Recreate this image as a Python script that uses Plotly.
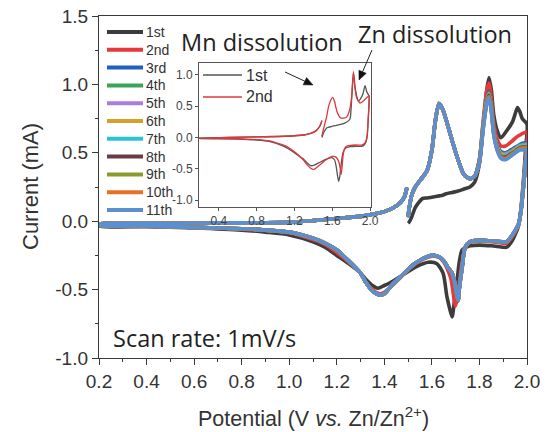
import plotly.graph_objects as go

# ---------------- main panel: 11 CV cycles (current in mA vs potential in V) ----------------
CYCLES = ["1st", "2nd", "3rd", "4th", "5th", "6th", "7th", "8th", "9th", "10th", "11th"]
COLORS = ["#3c3c3c", "#e8393a", "#1f5fc6", "#3da35a", "#a97fdc", "#d4a22a",
          "#2cc3d3", "#6d3b44", "#8a9b2b", "#e86f28", "#5b8fcf"]

# anodic sweep 1.50 -> 1.78 V
V_START = [1.500, 1.505, 1.515, 1.53, 1.56, 1.58, 1.60, 1.615, 1.63, 1.645, 1.66, 1.685, 1.71, 1.735, 1.76, 1.78]
I_START_1ST = [-0.015, -0.005, 0.03, 0.10, 0.165, 0.17, 0.175, 0.18, 0.185, 0.19, 0.20, 0.21, 0.22, 0.235, 0.25, 0.285]
I_START_LATER = [0.03, 0.10, 0.19, 0.25, 0.32, 0.37, 0.52, 0.74, 0.86, 0.82, 0.74, 0.59, 0.45, 0.34, 0.31, 0.33]

# anodic sweep 1.80 -> 2.00 V (Zn-related peaks), one list per cycle
V_TAIL = [1.80, 1.815, 1.83, 1.84, 1.85, 1.86, 1.875, 1.89, 1.91, 1.94, 1.96, 1.97, 1.98, 2.0]
TAIL_1ST = [0.42, 0.68, 0.95, 1.05, 0.96, 0.78, 0.66, 0.61, 0.65, 0.73, 0.83, 0.80, 0.75, 0.71]
TAIL_2ND = [0.45, 0.72, 0.95, 1.01, 0.90, 0.72, 0.60, 0.55, 0.55, 0.59, 0.62, 0.63, 0.64, 0.65]
TAIL_3RD = [0.45, 0.70, 0.89, 0.95, 0.85, 0.68, 0.56, 0.51, 0.50, 0.53, 0.55, 0.56, 0.57, 0.57]
TAIL_4TH = [0.45, 0.70, 0.88, 0.94, 0.84, 0.67, 0.55, 0.50, 0.495, 0.52, 0.545, 0.555, 0.56, 0.565]
TAIL_5TH = [0.45, 0.69, 0.88, 0.93, 0.83, 0.66, 0.545, 0.495, 0.49, 0.515, 0.54, 0.55, 0.555, 0.56]
TAIL_6TH = [0.44, 0.69, 0.87, 0.93, 0.83, 0.66, 0.54, 0.49, 0.48, 0.51, 0.535, 0.545, 0.55, 0.55]
TAIL_7TH = [0.44, 0.68, 0.87, 0.92, 0.82, 0.65, 0.535, 0.48, 0.475, 0.505, 0.53, 0.54, 0.545, 0.545]
TAIL_8TH = [0.44, 0.68, 0.86, 0.92, 0.82, 0.65, 0.53, 0.475, 0.47, 0.50, 0.525, 0.535, 0.54, 0.54]
TAIL_9TH = [0.43, 0.67, 0.86, 0.91, 0.81, 0.64, 0.525, 0.47, 0.46, 0.495, 0.52, 0.53, 0.535, 0.535]
TAIL_10TH = [0.43, 0.67, 0.85, 0.91, 0.81, 0.64, 0.52, 0.465, 0.455, 0.49, 0.515, 0.525, 0.53, 0.53]
TAIL_11TH = [0.43, 0.66, 0.85, 0.90, 0.80, 0.63, 0.515, 0.46, 0.45, 0.485, 0.51, 0.52, 0.52, 0.52]

# cathodic sweep 2.00 -> 0.20 V
V_REV_1ST = [1.995, 1.985, 1.975, 1.965, 1.95, 1.935, 1.915, 1.90, 1.85, 1.80, 1.76, 1.745, 1.727, 1.715,
             1.705, 1.695, 1.685, 1.675, 1.663, 1.647, 1.62, 1.585, 1.537, 1.48, 1.424, 1.40, 1.373, 1.35,
             1.32, 1.30, 1.25, 1.20, 1.15, 1.10, 1.0, 0.9, 0.8, 0.6, 0.4, 0.2]
I_REV_1ST = [0.55, 0.30, 0.10, -0.03, -0.10, -0.15, -0.19, -0.19, -0.18, -0.175, -0.18, -0.19, -0.21, -0.30,
             -0.45, -0.58, -0.70, -0.64, -0.55, -0.38, -0.31, -0.30, -0.33, -0.39, -0.45, -0.47, -0.49, -0.47,
             -0.42, -0.38, -0.31, -0.25, -0.19, -0.15, -0.10, -0.08, -0.065, -0.05, -0.04, -0.035]

V_REV_2ND = [1.995, 1.985, 1.975, 1.965, 1.95, 1.935, 1.915, 1.90, 1.85, 1.80, 1.76, 1.74, 1.725, 1.715,
             1.705, 1.698, 1.69, 1.68, 1.665, 1.65, 1.63, 1.605, 1.58, 1.55, 1.52, 1.49, 1.46, 1.43, 1.40,
             1.38, 1.35, 1.32, 1.30, 1.25, 1.20, 1.15, 1.10, 1.0, 0.9, 0.8, 0.6, 0.4, 0.2]
I_REV_2ND = [0.50, 0.28, 0.09, -0.02, -0.08, -0.12, -0.16, -0.16, -0.15, -0.145, -0.155, -0.20, -0.32, -0.46,
             -0.58, -0.62, -0.53, -0.42, -0.35, -0.30, -0.265, -0.255, -0.265, -0.29, -0.325, -0.375, -0.425,
             -0.475, -0.52, -0.53, -0.50, -0.44, -0.38, -0.30, -0.23, -0.17, -0.135, -0.085, -0.068, -0.058,
             -0.045, -0.037, -0.032]

V_REV_LATER = [1.995, 1.985, 1.975, 1.965, 1.95, 1.935, 1.915, 1.90, 1.85, 1.80, 1.76, 1.74, 1.727, 1.716,
               1.71, 1.703, 1.695, 1.685, 1.668, 1.65, 1.63, 1.605, 1.58, 1.55, 1.52, 1.49, 1.46, 1.43, 1.40,
               1.38, 1.35, 1.32, 1.30, 1.25, 1.20, 1.15, 1.10, 1.0, 0.9, 0.8, 0.6, 0.4, 0.2]
I_REV_LATER = [0.45, 0.25, 0.08, -0.02, -0.07, -0.11, -0.15, -0.15, -0.145, -0.14, -0.15, -0.19, -0.34, -0.48,
               -0.58, -0.52, -0.44, -0.38, -0.34, -0.29, -0.26, -0.25, -0.26, -0.285, -0.32, -0.37, -0.42,
               -0.47, -0.53, -0.54, -0.51, -0.44, -0.38, -0.29, -0.21, -0.16, -0.125, -0.08, -0.065, -0.055,
               -0.045, -0.035, -0.03]

# anodic return 0.20 -> 1.495 V
V_RET = [0.2, 0.5, 0.8, 1.0, 1.2, 1.3, 1.35, 1.40, 1.44, 1.47, 1.485, 1.495]
I_RET = [-0.02, -0.015, -0.012, -0.008, 0.02, 0.035, 0.05, 0.07, 0.10, 0.14, 0.18, 0.245]

# ---------------- inset: 1st and 2nd cycle ----------------
INSET_CYCLES = ["1st", "2nd"]
INSET_COLORS = ["#555555", "#e0363a"]
IN_V_OX_1ST = [1.49, 1.51, 1.544, 1.59, 1.632, 1.69, 1.737, 1.775, 1.79, 1.805, 1.824, 1.84, 1.859, 1.877,
               1.90, 1.925, 1.947, 1.965, 1.99]
IN_I_OX_1ST = [0.0, 0.08, 0.155, 0.175, 0.19, 0.21, 0.235, 0.27, 0.31, 0.6, 1.03, 0.82, 0.66, 0.58,
               0.62, 0.70, 0.83, 0.73, 0.66]
IN_V_OX_2ND = [1.49, 1.505, 1.52, 1.54, 1.562, 1.585, 1.605, 1.625, 1.649, 1.685, 1.72, 1.754, 1.785, 1.805,
               1.824, 1.84, 1.859, 1.894, 1.92, 1.947, 1.99]
IN_I_OX_2ND = [0.02, 0.12, 0.21, 0.33, 0.50, 0.60, 0.64, 0.57, 0.42, 0.315, 0.31, 0.33, 0.45, 0.65,
               1.05, 0.80, 0.63, 0.55, 0.57, 0.61, 0.67]
IN_V_RED_1ST = [1.99, 1.98, 1.97, 1.955, 1.93, 1.91, 1.85, 1.79, 1.75, 1.73, 1.715, 1.70, 1.69, 1.68, 1.667,
                1.655, 1.64, 1.625, 1.596, 1.57, 1.53, 1.49, 1.45, 1.41, 1.37, 1.33, 1.30, 1.25, 1.176, 1.1,
                1.0, 0.932, 0.8, 0.6, 0.4, 0.19]
IN_I_RED_1ST = [0.55, 0.25, 0.02, -0.08, -0.13, -0.14, -0.14, -0.145, -0.16, -0.19, -0.24, -0.36, -0.48, -0.62,
                -0.70, -0.60, -0.45, -0.36, -0.32, -0.33, -0.35, -0.38, -0.41, -0.44, -0.45, -0.40, -0.35, -0.30,
                -0.22, -0.15, -0.09, -0.06, -0.04, -0.025, -0.02, -0.015]
IN_V_RED_2ND = [1.99, 1.98, 1.97, 1.955, 1.93, 1.91, 1.85, 1.79, 1.75, 1.73, 1.715, 1.705, 1.695, 1.685, 1.672,
                1.655, 1.635, 1.615, 1.596, 1.57, 1.53, 1.49, 1.45, 1.404, 1.37, 1.33, 1.30, 1.25, 1.176, 1.1,
                1.0, 0.932, 0.8, 0.6, 0.4, 0.19]
IN_I_RED_2ND = [0.60, 0.30, 0.05, -0.06, -0.11, -0.12, -0.12, -0.125, -0.14, -0.18, -0.28, -0.45, -0.59, -0.50,
                -0.40, -0.34, -0.31, -0.30, -0.30, -0.32, -0.36, -0.41, -0.46, -0.51, -0.49, -0.43, -0.37, -0.29,
                -0.20, -0.13, -0.08, -0.055, -0.035, -0.02, -0.015, -0.01]
IN_V_RET = [0.19, 0.5, 0.8, 1.1, 1.3, 1.38, 1.43, 1.46, 1.48, 1.49]
IN_I_RET = [-0.01, 0.0, 0.01, 0.02, 0.04, 0.07, 0.11, 0.16, 0.22, 0.27]

# tick labels
Y_TICKS = [-1.0, -0.5, 0.0, 0.5, 1.0, 1.5]
Y_TICK_TEXT = ["-1.0", "-0.5", "0.0", "0.5", "1.0", "1.5"]
X_TICKS = [0.2, 0.4, 0.6, 0.8, 1.0, 1.2, 1.4, 1.6, 1.8, 2.0]
IN_Y_TICKS = [-1.0, -0.5, 0.0, 0.5, 1.0]
IN_Y_TICK_TEXT = ["-1.0", "-0.5", "0.0", "0.5", "1.0"]
IN_X_TICKS = [0.4, 0.8, 1.2, 1.6, 2.0]

TAILS = [TAIL_1ST, TAIL_2ND, TAIL_3RD, TAIL_4TH, TAIL_5TH, TAIL_6TH,
         TAIL_7TH, TAIL_8TH, TAIL_9TH, TAIL_10TH, TAIL_11TH]

# ---------------- page geometry (pixels) ----------------
W, H = 551, 432
ML, MR, MT, MB = 99, 24, 16, 74
PW, PH = W - ML - MR, H - MT - MB


def px(x):
    """figure pixel column -> paper x"""
    return (x - ML) / PW


def py(y):
    """figure pixel row -> paper y"""
    return (H - MB - y) / PH


fig = go.Figure()

for k, name in enumerate(CYCLES):
    if k == 0:
        head, v_rev, i_rev = I_START_1ST, V_REV_1ST, I_REV_1ST
    elif k == 1:
        head, v_rev, i_rev = I_START_LATER, V_REV_2ND, I_REV_2ND
    else:
        head, v_rev, i_rev = I_START_LATER, V_REV_LATER, I_REV_LATER
    fig.add_trace(go.Scatter(
        x=V_START + V_TAIL + v_rev + V_RET,
        y=head + TAILS[k] + i_rev + I_RET,
        mode="lines", name=name, showlegend=False,
        line=dict(color=COLORS[k], width=3.6, shape="spline", smoothing=0.7),
    ))

INSET_SERIES = [(IN_V_OX_1ST, IN_I_OX_1ST, IN_V_RED_1ST, IN_I_RED_1ST),
                (IN_V_OX_2ND, IN_I_OX_2ND, IN_V_RED_2ND, IN_I_RED_2ND)]
for k, (vo, io, vr, ir) in enumerate(INSET_SERIES):
    fig.add_trace(go.Scatter(
        x=vo + vr + IN_V_RET, y=io + ir + IN_I_RET, mode="lines", name=INSET_CYCLES[k],
        showlegend=False, line=dict(color=INSET_COLORS[k], width=1.3, shape="spline", smoothing=0.6),
        xaxis="x2", yaxis="y2",
    ))

AX = "#3a3a3a"
ARIAL = "Liberation Sans, Arial, sans-serif"
TICK_FONT = dict(family=ARIAL, size=19, color="#333333")
IN_FONT = dict(family=ARIAL, size=12, color="#444444")

fig.update_layout(
    width=W, height=H,
    margin=dict(l=ML, r=MR, t=MT, b=MB, autoexpand=False),
    paper_bgcolor="white", plot_bgcolor="white",
    showlegend=False,
    xaxis=dict(
        range=[0.2, 2.0], tickvals=X_TICKS, ticktext=[f"{v:.1f}" for v in X_TICKS],
        ticks="outside", ticklen=6, tickwidth=1.2, tickcolor=AX,
        minor=dict(tickvals=[0.3, 0.5, 0.7, 0.9, 1.1, 1.3, 1.5, 1.7, 1.9],
                   ticks="outside", ticklen=3, tickcolor=AX),
        showline=True, linecolor=AX, linewidth=1.3, mirror=True,
        showgrid=False, zeroline=False, tickfont=TICK_FONT, automargin=False,
    ),
    yaxis=dict(
        range=[-1.0, 1.5], tickvals=Y_TICKS, ticktext=Y_TICK_TEXT,
        ticks="outside", ticklen=6, tickwidth=1.2, tickcolor=AX,
        minor=dict(tickvals=[-0.75, -0.25, 0.25, 0.75, 1.25],
                   ticks="outside", ticklen=3, tickcolor=AX),
        showline=True, linecolor=AX, linewidth=1.3, mirror=True,
        showgrid=False, zeroline=False, tickfont=TICK_FONT, automargin=False,
    ),
    xaxis2=dict(
        domain=[px(199), px(371)], anchor="y2", range=[0.19, 2.01],
        tickvals=IN_X_TICKS, ticktext=[f"{v:.1f}" for v in IN_X_TICKS],
        ticks="outside", ticklen=3, tickcolor="#555555",
        showline=True, linecolor="#555555", linewidth=1, mirror=True,
        showgrid=False, zeroline=False, tickfont=IN_FONT,
    ),
    yaxis2=dict(
        domain=[py(207), py(63)], anchor="x2", range=[-1.11, 1.19],
        tickvals=IN_Y_TICKS, ticktext=IN_Y_TICK_TEXT,
        ticks="outside", ticklen=3, tickcolor="#555555",
        showline=True, linecolor="#555555", linewidth=1, mirror=True,
        showgrid=False, zeroline=False, tickfont=IN_FONT,
    ),
)

# ---------------- legends (sample line + label) ----------------
for k, name in enumerate(CYCLES):
    yk = 32 + 17.8 * k
    fig.add_shape(type="line", xref="paper", yref="paper",
                  x0=px(107), x1=px(143), y0=py(yk), y1=py(yk),
                  line=dict(color=COLORS[k], width=4))
    fig.add_annotation(text=name, xref="paper", yref="paper", x=px(144), y=py(yk),
                       xanchor="left", yanchor="middle", showarrow=False,
                       font=dict(family=ARIAL, size=14, color="#333333"))

for k, name in enumerate(INSET_CYCLES):
    yk = 75 + 22 * k
    fig.add_shape(type="line", xref="paper", yref="paper",
                  x0=px(203), x1=px(242), y0=py(yk), y1=py(yk),
                  line=dict(color=INSET_COLORS[k], width=1.4))
    fig.add_annotation(text=name, xref="paper", yref="paper", x=px(244), y=py(yk),
                       xanchor="left", yanchor="middle", showarrow=False,
                       font=dict(family=ARIAL, size=16, color="#333333"))

# ---------------- text labels ----------------
ANN_FONT = dict(family="Open Sans, Lato, sans-serif", size=23.5, color="#222222")
fig.add_annotation(text="Mn dissolution", xref="paper", yref="paper", x=px(179), y=py(42),
                   xanchor="left", yanchor="middle", showarrow=False, font=ANN_FONT)
fig.add_annotation(text="Zn dissolution", xref="paper", yref="paper", x=px(356), y=py(34),
                   xanchor="left", yanchor="middle", showarrow=False, font=ANN_FONT)
fig.add_annotation(text="Scan rate: 1mV/s", xref="paper", yref="paper", x=px(111), y=py(338),
                   xanchor="left", yanchor="middle", showarrow=False, font=ANN_FONT)


# ---------------- arrows pointing at the dissolution peaks ----------------
def arrow(tail, tip, head_len=9.0, half_w=4.0):
    (x0, y0), (x1, y1) = tail, tip
    dx, dy = x1 - x0, y1 - y0
    n = (dx * dx + dy * dy) ** 0.5
    ux, uy = dx / n, dy / n
    bx, by = x1 - head_len * ux, y1 - head_len * uy
    fig.add_shape(type="line", xref="paper", yref="paper",
                  x0=px(x0), y0=py(y0), x1=px(bx), y1=py(by),
                  line=dict(color="#222222", width=1))
    c1 = (bx - half_w * uy, by + half_w * ux)
    c2 = (bx + half_w * uy, by - half_w * ux)
    path = (f"M {px(x1)},{py(y1)} L {px(c1[0])},{py(c1[1])} "
            f"L {px(c2[0])},{py(c2[1])} Z")
    fig.add_shape(type="path", xref="paper", yref="paper", path=path,
                  fillcolor="#111111", line=dict(color="#111111", width=0.5))


arrow((285, 72), (313, 85))
arrow((372, 50), (359, 80))

# ---------------- axis titles ----------------
fig.add_annotation(text="Current (mA)", xref="paper", yref="paper", x=px(30), y=0.5,
                   textangle=-90, xanchor="center", yanchor="middle", showarrow=False,
                   font=dict(family=ARIAL, size=22, color="#333333"))
fig.add_annotation(text="Potential (V <i>vs.</i> Zn/Zn<sup>2+</sup>)", xref="paper", yref="paper",
                   x=px(313), y=py(417), xanchor="center", yanchor="middle", showarrow=False,
                   font=dict(family=ARIAL, size=21.5, color="#333333"))

fig.write_html("out.html")
